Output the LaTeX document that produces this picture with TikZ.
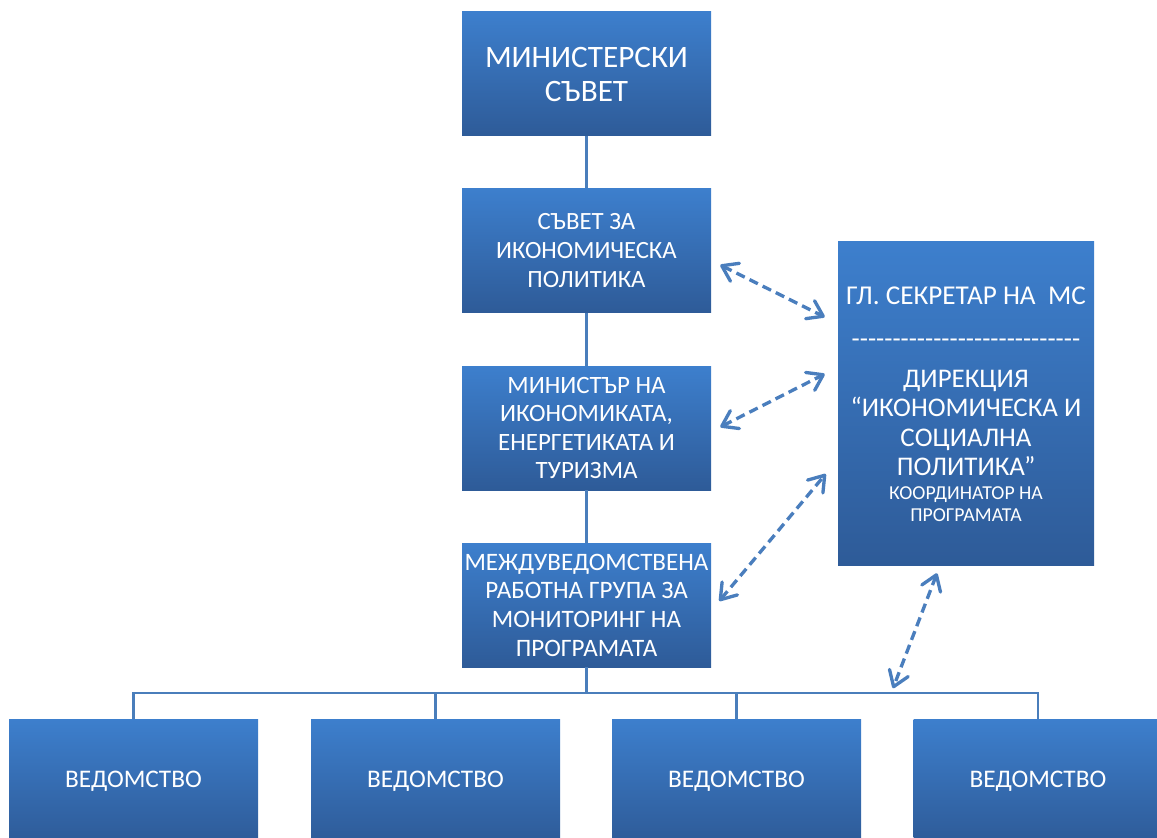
\documentclass[tikz,border=0pt]{standalone}
\usepackage{fontspec}
\setmainfont{Carlito}
\usetikzlibrary{calc,arrows.meta}

\definecolor{boxtop}{RGB}{61,127,205}
\definecolor{boxbot}{RGB}{46,91,152}
\definecolor{linkblue}{RGB}{74,126,187}
\definecolor{tieblue}{RGB}{74,126,189}

\newcommand\secdashes{\foreach \k in {1,...,28}{-}}

\tikzset{
  unit/.style={rectangle, inner sep=0pt, top color=boxtop, bottom color=boxbot,
    text=white, align=center, minimum width=186.75pt, minimum height=93pt},
  label text/.style={text=white, align=center, inner sep=0pt},
  link/.style={draw=linkblue, line width=2pt},
  tie/.style={draw=tieblue, line width=2.5pt, dash pattern=on 7pt off 4pt,
    {Straight Barb[length=11pt,width=15pt,round]}-{Straight Barb[length=11pt,width=15pt,round]}}
}

\begin{document}
\begin{tikzpicture}[x=0.75pt,y=-0.75pt]
            \useasboundingbox (0,0) rectangle (1157,838);
            \clip (0,0) rectangle (1157,838);

            \node[unit,font=\fontsize{23.4}{25.5}\selectfont] (ms) at (586.5,74) {МИНИСТЕРСКИ\\СЪВЕТ};
            \node[unit,font=\fontsize{18.6}{22}\selectfont] (sip) at (586.5,250.5) {СЪВЕТ ЗА\\ИКОНОМИЧЕСКА\\ПОЛИТИКА};
            \node[unit,font=\fontsize{18.7}{21.4}\selectfont] (min) at (586.5,428) {МИНИСТЪР НА\\ИКОНОМИКАТА,\\ЕНЕРГЕТИКАТА И\\ТУРИЗМА};
            \node[unit,font=\fontsize{18.8}{21.5}\selectfont] (mw) at (586.5,605) {МЕЖДУВЕДОМСТВЕНА\\РАБОТНА ГРУПА ЗА\\МОНИТОРИНГ НА\\ПРОГРАМАТА};

            \node[unit,minimum width=192pt,minimum height=242.25pt] (sec) at (966,403.5) {};
            \node[label text,font=\fontsize{20.4}{22}\selectfont] (sechead) at (966,296) {ГЛ. СЕКРЕТАР НА\ \ МС};
            \node[label text,font=\fontsize{20}{22}\selectfont] (secrule) at (966,343) {\secdashes};
            \node[label text,font=\fontsize{20.2}{22}\selectfont] (secdir) at (966,423) {ДИРЕКЦИЯ\\“ИКОНОМИЧЕСКА И\\СОЦИАЛНА\\ПОЛИТИКА”};
            \node[label text,font=\fontsize{14.8}{16.5}\selectfont] (secprog) at (966,504) {КООРДИНАТОР НА\\ПРОГРАМАТА};

            \foreach \i/\x in {1/133.5,2/435.5,3/736.5,4/1038}
              \node[unit,font=\fontsize{19}{20}\selectfont] (v\i) at (\x,781) {ВЕДОМСТВО};

            \draw[link] (ms.south) -- (sip.north) (sip.south) -- (min.north) (min.south) -- (mw.north);
            \coordinate (bus) at (586.5,693);
            \draw[link] (mw.south) -- (bus);
            \foreach \i in {1,...,4}
              \draw[link] (bus) -| (v\i.north);

            \draw[tie] ($(sip.east)+(9,14.5)$) -- ($(sec.west)+(-13,-86.5)$);
            \draw[tie] ($(min.east)+(9,-1)$) -- ($(sec.west)+(-13,-29.5)$);
            \draw[tie] ($(mw.east)+(8,-4)$) -- ($(sec.west)+(-12,70.5)$);
            \draw[tie] ($(sec.south)+(-29,8)$) -- ($(sec.south)+(-73,123)$);
          \end{tikzpicture}
\end{document}
